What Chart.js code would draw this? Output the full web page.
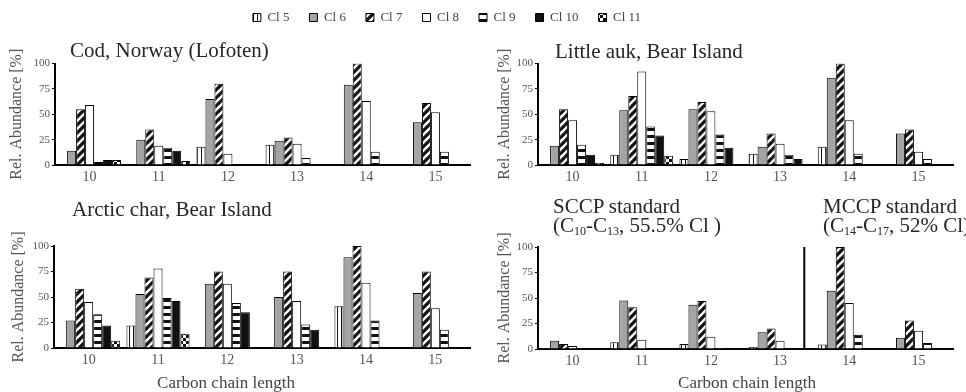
<!DOCTYPE html>
<html>
<head>
<meta charset="utf-8">
<script src="https://cdn.jsdelivr.net/npm/chart.js@4.4.0/dist/chart.umd.min.js"></script>
<style>
  body { margin: 0; width: 966px; height: 392px; position: relative; overflow: hidden; background: #fff; font-family: "Liberation Serif", serif; }
  .box { position: absolute; }
  .ttl { position: absolute; font-size: 21px; line-height: 21px; color: #262626; white-space: nowrap; }
  .ttl sub { font-size: 12px; line-height: 0; vertical-align: -3px; }
  .xt { position: absolute; font-size: 17px; line-height: 17px; color: #444; white-space: nowrap; transform: translateX(-50%); }
</style>
</head>
<body>
<div class="box" style="left:0;top:-9px;width:966px;height:80px"><canvas id="legendChart"></canvas></div>

<div class="box" style="left:0;top:30px;width:480px;height:160px"><canvas id="codChart"></canvas></div>
<div class="box" style="left:480px;top:30px;width:486px;height:160px"><canvas id="aukChart"></canvas></div>
<div class="box" style="left:0;top:215px;width:480px;height:165px"><canvas id="charChart"></canvas></div>
<div class="box" style="left:480px;top:216px;width:486px;height:165px"><canvas id="stdChart"></canvas></div>

<div class="ttl" style="left:70px;top:40px">Cod, Norway (Lofoten)</div>
<div class="ttl" style="left:555px;top:41px">Little auk, Bear Island</div>
<div class="ttl" style="left:72px;top:199px">Arctic char, Bear Island</div>
<div class="ttl" style="left:553px;top:197px;line-height:19px">SCCP standard<br>(C<sub>10</sub>-C<sub>13</sub>, 55.5% Cl )</div>
<div class="ttl" style="left:823px;top:197px;line-height:19px">MCCP standard<br>(C<sub>14</sub>-C<sub>17</sub>, 52% Cl)</div>

<div class="xt" style="left:226px;top:374px">Carbon chain length</div>
<div class="xt" style="left:747px;top:374px">Carbon chain length</div>

<script>
// carbon chain lengths on the x axis, chlorine numbers in the legend
let chainLengths = ['10', '11', '12', '13', '14', '15'];
let clLabels = ['Cl 5', 'Cl 6', 'Cl 7', 'Cl 8', 'Cl 9', 'Cl 10', 'Cl 11'];
let yTicks = [0, 25, 50, 75, 100];

// one row per Cl series, values for C10..C15 (rel. abundance %)
let codValues = [
  [null, null, 18, 20, null, null],
  [14, 25, 65, 24, 79, 42],
  [55, 35, 80, 27, 100, 61],
  [59, 19, 11, 21, 63, 52],
  [3, 17, null, 7, 13, 13],
  [5, 14, null, null, null, null],
  [5, 4, null, null, null, null]
];
let aukValues = [
  [null, 10, 6, 11, 18, null],
  [19, 54, 55, 18, 86, 31],
  [55, 68, 62, 31, 100, 35],
  [44, 92, 53, 21, 44, 13],
  [20, 38, 30, 10, 11, 6],
  [10, 29, 17, 6, null, null],
  [2, 9, null, null, null, null]
];
let charValues = [
  [null, 22, null, null, 41, null],
  [27, 53, 63, 50, 89, 54],
  [58, 69, 75, 75, 100, 75],
  [45, 78, 63, 46, 64, 39],
  [33, 49, 44, 23, 27, 18],
  [22, 46, 35, 18, null, null],
  [7, 14, null, null, null, null]
];
let standardValues = [
  [1, 6.5, 5, 2, 4.5, null],
  [8, 47.5, 43.5, 16.5, 57, 11],
  [5, 41, 47, 20, 100, 28],
  [3, 9, 12, 8, 45, 18],
  [0.5, 0.5, 1, 0.5, 14, 6],
  [null, null, null, null, null, null],
  [null, null, null, null, null, null]
];
// SCCP | MCCP divider, in category units
let standardSplitAt = 3.35;

let serif = "'Liberation Serif', serif";

function makePattern(size, draw) {
  let c = document.createElement('canvas');
  c.width = size; c.height = size;
  let ctx = c.getContext('2d');
  draw(ctx, size);
  return ctx.createPattern(c, 'repeat');
}

let clFills = [
  makePattern(4, (ctx, s) => { ctx.fillStyle = '#fff'; ctx.fillRect(0, 0, s, s); ctx.fillStyle = '#111'; ctx.fillRect(1, 0, 1, s); }),
  '#a4a4a4',
  makePattern(8, (ctx, s) => {
    ctx.fillStyle = '#111'; ctx.fillRect(0, 0, s, s);
    ctx.strokeStyle = '#fff'; ctx.lineWidth = 2.4;
    ctx.beginPath();
    ctx.moveTo(-2, s + 2); ctx.lineTo(s + 2, -2);
    ctx.moveTo(-2, 2); ctx.lineTo(2, -2);
    ctx.moveTo(s - 2, s + 2); ctx.lineTo(s + 2, s - 2);
    ctx.stroke();
  }),
  '#ffffff',
  makePattern(7, (ctx, s) => { ctx.fillStyle = '#fff'; ctx.fillRect(0, 0, s, s); ctx.fillStyle = '#111'; ctx.fillRect(0, 0, s, 3); }),
  '#111111',
  makePattern(6, (ctx, s) => {
    ctx.fillStyle = '#fff'; ctx.fillRect(0, 0, s, s);
    ctx.fillStyle = '#111'; ctx.fillRect(0, 0, 3, 3); ctx.fillRect(3, 3, 3, 3);
  })
];

function buildDatasets(values) {
  return clLabels.map((lab, k) => ({
    label: lab,
    data: values ? values[k] : [],
    backgroundColor: clFills[k],
    borderColor: '#000',
    borderWidth: 1,
    categoryPercentage: 0.91,
    barPercentage: 1
  }));
}

let separatorLine = {
  id: 'separatorLine',
  afterDatasetsDraw(chart) {
    let x = chart.scales.x.getPixelForValue(standardSplitAt);
    let ctx = chart.ctx;
    ctx.save();
    ctx.strokeStyle = '#000';
    ctx.lineWidth = 2;
    ctx.beginPath();
    ctx.moveTo(x, chart.chartArea.top);
    ctx.lineTo(x, chart.chartArea.bottom);
    ctx.stroke();
    ctx.restore();
  }
};

function drawPanel(id, values, o) {
  new Chart(document.getElementById(id), {
    type: 'bar',
    data: { labels: chainLengths, datasets: buildDatasets(values) },
    options: {
      responsive: true,
      maintainAspectRatio: false,
      animation: false,
      layout: { padding: { top: o.top, right: o.right, left: 0, bottom: 0 } },
      plugins: { legend: { display: false }, tooltip: { enabled: false } },
      scales: {
        x: {
          grid: { display: false, drawTicks: false },
          border: { display: true, color: '#000', width: 2 },
          ticks: { color: '#555', font: { family: serif, size: 14 }, padding: 4 },
          afterFit: s => { s.height = o.xHeight; }
        },
        y: {
          min: 0,
          max: 100,
          afterBuildTicks: s => { s.ticks = yTicks.map(v => ({ value: v })); },
          grid: { drawOnChartArea: false, drawTicks: true, tickLength: 3, color: '#000' },
          border: { display: true, color: '#000', width: 2 },
          ticks: { color: '#555', font: { family: serif, size: 11 }, padding: 2 },
          title: {
            display: true,
            text: 'Rel. Abundance [%]',
            color: '#555',
            font: { family: serif, size: 16 },
            padding: { top: o.titlePad, bottom: 0 }
          },
          afterFit: s => { s.width = o.yWidth; }
        }
      }
    },
    plugins: o.split ? [separatorLine] : []
  });
}

window.addEventListener('load', function () {
  new Chart(document.getElementById('legendChart'), {
    type: 'bar',
    data: { labels: [''], datasets: buildDatasets(null) },
    options: {
      responsive: true,
      maintainAspectRatio: false,
      animation: false,
      layout: { padding: { right: 72 } },
      scales: { x: { display: false }, y: { display: false } },
      plugins: {
        tooltip: { enabled: false },
        legend: {
          position: 'top',
          labels: { boxWidth: 8, boxHeight: 8, padding: 20, color: '#444', font: { family: serif, size: 13 } }
        }
      }
    }
  });

  drawPanel('codChart', codValues, { top: 33.5, right: 10, yWidth: 55, xHeight: 25, titlePad: 7 });
  drawPanel('aukChart', aukValues, { top: 33.5, right: 13, yWidth: 58, xHeight: 25, titlePad: 15 });
  drawPanel('charChart', charValues, { top: 31, right: 10, yWidth: 54, xHeight: 32, titlePad: 9 });
  drawPanel('stdChart', standardValues, { top: 31, right: 13, yWidth: 58, xHeight: 32, titlePad: 15, split: true });
});
</script>
</body>
</html>
